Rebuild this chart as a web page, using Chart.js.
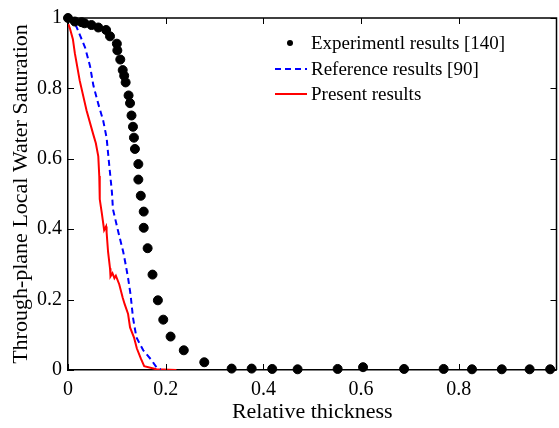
<!DOCTYPE html>
<html>
<head>
<meta charset="utf-8">
<script src="https://cdn.jsdelivr.net/npm/chart.js@4"></script>
<style>
    html, body { margin: 0; padding: 0; background: #fff; overflow: hidden; }
    #wrap { position: relative; width: 562px; height: 428px; }
</style>
</head>
<body>
<div id="wrap"><canvas id="satChart"></canvas></div>
<script>
// Experimental results [140]
const expX = [0, 0.014, 0.028, 0.034, 0.048, 0.062, 0.078, 0.086, 0.1, 0.101, 0.107, 0.112, 0.115, 0.118,
    0.124, 0.127, 0.13, 0.133, 0.135, 0.137, 0.144, 0.144, 0.149, 0.155, 0.155, 0.163, 0.173, 0.184,
    0.195, 0.21, 0.237, 0.279, 0.335, 0.376, 0.418, 0.47, 0.552, 0.604, 0.688, 0.769, 0.827, 0.888, 0.945, 0.987];
const expY = [1.0, 0.99, 0.988, 0.985, 0.98, 0.973, 0.966, 0.948, 0.927, 0.908, 0.882, 0.852, 0.836, 0.817,
    0.78, 0.758, 0.723, 0.691, 0.66, 0.628, 0.585, 0.541, 0.495, 0.45, 0.404, 0.346, 0.271, 0.198,
    0.143, 0.095, 0.056, 0.022, 0.004, 0.004, 0.003, 0.002, 0.003, 0.008, 0.003, 0.003, 0.002, 0.002, 0.002, 0.002];

// Reference results [90]
const refX = [0, 0.014, 0.02, 0.035, 0.045, 0.052, 0.062, 0.072, 0.079, 0.084, 0.09, 0.092, 0.103, 0.113,
    0.118, 0.123, 0.128, 0.133, 0.14, 0.154, 0.171, 0.181, 0.19];
const refY = [1.0, 0.985, 0.966, 0.916, 0.864, 0.808, 0.756, 0.709, 0.66, 0.588, 0.504, 0.457, 0.392, 0.336,
    0.3, 0.261, 0.215, 0.149, 0.093, 0.056, 0.028, 0.008, 0.002];

// Present results
const preX = [0, 0.004, 0.01, 0.014, 0.024, 0.038, 0.052, 0.057, 0.062, 0.064, 0.065, 0.069, 0.074, 0.078,
    0.079, 0.082, 0.086, 0.087, 0.091, 0.095, 0.098, 0.105, 0.112, 0.116, 0.123, 0.127, 0.135, 0.141,
    0.149, 0.156, 0.181, 0.222];
const preY = [0.985, 0.97, 0.94, 0.9, 0.822, 0.737, 0.668, 0.644, 0.607, 0.551, 0.485, 0.448, 0.397, 0.408,
    0.392, 0.336, 0.289, 0.266, 0.275, 0.261, 0.268, 0.243, 0.205, 0.187, 0.159, 0.121, 0.093, 0.061,
    0.033, 0.011, 0.002, 0];

const xTicks = [0, 0.2, 0.4, 0.6, 0.8];
const yTicks = [0, 0.2, 0.4, 0.6, 0.8, 1];

const seriesNames = ["Experimentl results [140]", "Reference results [90]", "Present results"];

const toPoints = (xs, ys) => xs.map((x, i) => ({ x: x, y: ys[i] }));

Chart.defaults.font.family = "'Liberation Serif', 'Times New Roman', serif";

// ✅ Box + inward ticks, like the original figure
const boxTicks = {
    id: "boxTicks",
    afterDraw(chart) {
        const { ctx, chartArea: a, scales: { x, y } } = chart;
        const len = 6;
        ctx.save();
        ctx.strokeStyle = "#000";
        ctx.lineWidth = 1.5;
        ctx.beginPath();
        ctx.moveTo(a.left, a.top);
        ctx.lineTo(a.right, a.top);
        ctx.lineTo(a.right, a.bottom);
        ctx.stroke();
        ctx.lineWidth = 1;
        ctx.beginPath();
        xTicks.forEach(v => {
            const px = Math.round(x.getPixelForValue(v)) + 0.5;
            ctx.moveTo(px, a.bottom); ctx.lineTo(px, a.bottom - len);
            ctx.moveTo(px, a.top); ctx.lineTo(px, a.top + len);
        });
        yTicks.forEach(v => {
            const py = Math.round(y.getPixelForValue(v)) + 0.5;
            ctx.moveTo(a.left, py); ctx.lineTo(a.left + len, py);
            ctx.moveTo(a.right, py); ctx.lineTo(a.right - len, py);
        });
        ctx.stroke();
        ctx.restore();
    }
};

// ✅ Legend drawn inside the plot, top right
const insideLegend = {
    id: "insideLegend",
    afterDraw(chart) {
        const ctx = chart.ctx;
        const x0 = 275, x1 = 307, textX = 311;
        const rows = [43, 69, 94];
        ctx.save();
        ctx.font = "19px 'Liberation Serif'";
        ctx.fillStyle = "#000";
        ctx.textBaseline = "middle";
        chart.data.datasets.forEach((ds, i) => {
            const yy = rows[i];
            if (ds.showLine === false) {
                ctx.beginPath();
                ctx.arc((x0 + x1) / 2 - 1, yy, 3, 0, Math.PI * 2);
                ctx.fillStyle = ds.pointBackgroundColor;
                ctx.fill();
            } else {
                ctx.beginPath();
                ctx.strokeStyle = ds.borderColor;
                ctx.lineWidth = ds.borderWidth;
                ctx.setLineDash(ds.borderDash || []);
                ctx.moveTo(x0, yy);
                ctx.lineTo(x1, yy);
                ctx.stroke();
                ctx.setLineDash([]);
            }
            ctx.fillStyle = "#000";
            ctx.fillText(ds.label, textX, yy + 1);
        });
        ctx.restore();
    }
};

document.addEventListener("DOMContentLoaded", function () {
    const ctx = document.getElementById("satChart").getContext("2d");

    new Chart(ctx, {
        type: "scatter",
        data: {
            datasets: [
                {
                    label: seriesNames[0],
                    data: toPoints(expX, expY),
                    showLine: false,
                    pointRadius: 4.5,
                    pointBackgroundColor: "#000",
                    pointBorderColor: "#000",
                    clip: false,
                    order: 0
                },
                {
                    label: seriesNames[1],
                    data: toPoints(refX, refY),
                    showLine: true,
                    borderColor: "#0000ff",
                    borderWidth: 2,
                    borderDash: [6, 4],
                    pointRadius: 0,
                    order: 1
                },
                {
                    label: seriesNames[2],
                    data: toPoints(preX, preY),
                    showLine: true,
                    borderColor: "#ff0000",
                    borderWidth: 2,
                    pointRadius: 0,
                    order: 2
                }
            ]
        },
        options: {
            responsive: true,
            maintainAspectRatio: false,
            animation: false,
            layout: { padding: { top: 13, right: 1, left: 0, bottom: 0 } },
            plugins: {
                legend: { display: false },
                tooltip: { enabled: false }
            },
            scales: {
                x: {
                    type: "linear",
                    min: 0,
                    max: 1,
                    afterBuildTicks: s => { s.ticks = xTicks.map(v => ({ value: v })); },
                    afterFit: s => { s.height = 58; },
                    grid: { display: false, drawTicks: false },
                    border: { display: true, color: "#000", width: 1.5 },
                    ticks: {
                        color: "#000",
                        padding: 8,
                        maxRotation: 0,
                        callback: v => String(v),
                        font: { family: "'Liberation Serif'", size: 20 }
                    },
                    title: {
                        display: true,
                        text: "Relative thickness",
                        color: "#000",
                        padding: { top: 0, bottom: 3 },
                        font: { family: "'Liberation Serif'", size: 22 }
                    }
                },
                y: {
                    type: "linear",
                    min: 0,
                    max: 1,
                    afterBuildTicks: s => { s.ticks = yTicks.map(v => ({ value: v })); },
                    afterFit: s => { s.width = 68; },
                    grid: { display: false, drawTicks: false },
                    border: { display: true, color: "#000", width: 1.5 },
                    ticks: {
                        color: "#000",
                        padding: 6,
                        callback: v => String(v),
                        font: { family: "'Liberation Serif'", size: 20 }
                    },
                    title: {
                        display: true,
                        text: "Through-plane Local Water Saturation",
                        color: "#000",
                        padding: { top: 8, bottom: 0 },
                        font: { family: "'Liberation Serif'", size: 22 }
                    }
                }
            }
        },
        plugins: [boxTicks, insideLegend]
    });
});
</script>
</body>
</html>
